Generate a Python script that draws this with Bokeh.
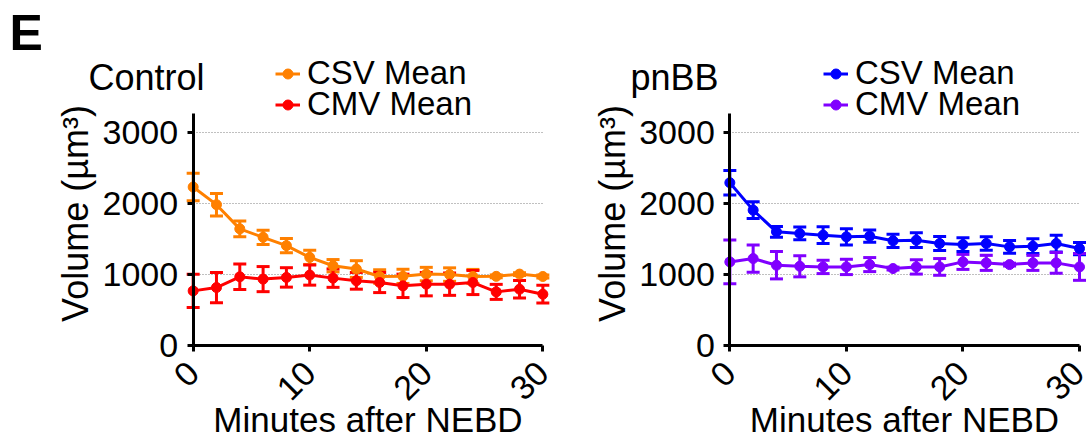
import math
from bokeh.plotting import figure
from bokeh.models import (ColumnDataSource, Whisker, TeeHead, Legend, LegendItem,
                          Label, FixedTicker, Range1d)
from bokeh.layouts import row
from bokeh.embed import file_html
from bokeh.resources import INLINE

minutes = [0, 2, 4, 6, 8, 10, 12, 14, 16, 18, 20, 22, 24, 26, 28, 30]
control_csv = [2235, 1986, 1645, 1526, 1408, 1243, 1125, 1078, 973, 975, 1007, 1000, 973, 975, 1007, 973]
control_csv_err = [194, 158, 111, 100, 100, 100, 87, 118, 95, 100, 95, 95, 100, 20, 20, 20]
control_cmv = [770, 817, 969, 936, 960, 993, 950, 912, 888, 841, 865, 865, 888, 756, 794, 723]
control_cmv_err = [236, 213, 180, 177, 137, 142, 130, 118, 142, 165, 165, 158, 170, 106, 123, 125]
pnbb_csv = [2296, 1909, 1603, 1580, 1556, 1532, 1542, 1476, 1485, 1438, 1424, 1438, 1391, 1400, 1438, 1367]
pnbb_csv_err = [172, 118, 75, 90, 118, 113, 87, 94, 104, 99, 97, 94, 90, 104, 118, 87]
pnbb_cmv = [1179, 1226, 1132, 1117, 1108, 1108, 1141, 1085, 1108, 1108, 1179, 1165, 1141, 1165, 1165, 1108]
pnbb_cmv_err = [309, 193, 193, 149, 94, 108, 99, 20, 101, 118, 106, 106, 20, 106, 146, 189]

x_ticks = [0, 10, 20, 30]
y_ticks = [0, 1000, 2000, 3000]
series_labels = ["CSV Mean", "CMV Mean"]
panel_titles = ["Control", "pnBB"]
x_label = "Minutes after NEBD"
y_label = "Volume (µm³)"

FONT = "Liberation Sans"
Y_AXIS_TOP = 3276


def make_panel(title, csv, csv_err, cmv, cmv_err, colors, width, border_right,
               x_start, x_end, legend_x, title_x, xlabel_x, ylabel_x, panel_letter=None):
    p = figure(width=width, height=437, output_backend="svg", toolbar_location=None,
               x_range=Range1d(x_start, x_end), y_range=Range1d(-1298, 4866),
               min_border_left=5, min_border_right=border_right,
               min_border_top=0, min_border_bottom=0)
    p.outline_line_color = None
    p.xgrid.visible = False
    p.ygrid.ticker = FixedTicker(ticks=[1000, 2000, 3000])
    p.ygrid.grid_line_color = "#808080"
    p.ygrid.grid_line_dash = "1 2"
    p.ygrid.grid_line_width = 1
    p.ygrid.cross_bounds = (0, 30)

    for ax in (p.xaxis, p.yaxis):
        ax.axis_line_width = 3
        ax.axis_line_color = "black"
        ax.major_tick_line_width = 3
        ax.major_tick_out = 6
        ax.major_tick_in = 0
        ax.minor_tick_line_color = None
        ax.major_label_text_font = FONT
        ax.major_label_text_font_size = "34px"
        ax.major_label_text_color = "black"

    p.xaxis.ticker = FixedTicker(ticks=x_ticks)
    p.xaxis.bounds = (0, 30)
    p.xaxis.fixed_location = 0
    p.xaxis.major_label_orientation = 0.785398
    p.xaxis.major_label_standoff = 16

    p.yaxis.ticker = FixedTicker(ticks=y_ticks)
    p.yaxis.bounds = (0, Y_AXIS_TOP)
    p.yaxis.fixed_location = 0
    p.yaxis.major_label_standoff = 9

    for k, (vals, errs, col, lab) in enumerate(((csv, csv_err, colors[0], series_labels[0]),
                                                (cmv, cmv_err, colors[1], series_labels[1]))):
        src = ColumnDataSource(dict(x=minutes, y=vals,
                                    lo=[v - e for v, e in zip(vals, errs)],
                                    hi=[v + e for v, e in zip(vals, errs)]))
        ln = p.line("x", "y", source=src, line_color=col, line_width=3)
        w = Whisker(source=src, base="x", lower="lo", upper="hi", dimension="height",
                    line_color=col, line_width=3,
                    lower_head=TeeHead(size=13, line_color=col, line_width=3),
                    upper_head=TeeHead(size=13, line_color=col, line_width=3))
        p.add_layout(w)
        sc = p.scatter("x", "y", source=src, size=10, fill_color=col, line_color=col)
        legend = Legend(items=[LegendItem(label=lab, renderers=[ln, sc])],
                        location=(legend_x, 345 - 31 * k), padding=0, margin=0,
                        spacing=0, glyph_width=25, glyph_height=31, label_height=31,
                        label_standoff=7, label_text_font=FONT,
                        label_text_font_size="33px", label_text_color="black",
                        background_fill_alpha=0, border_line_alpha=0)
        p.add_layout(legend)

    p.add_layout(Label(x=title_x, y=360, x_units="screen", y_units="screen", text=title,
                       text_baseline="alphabetic", text_font=FONT,
                       text_font_size="36px", text_color="black"))
    p.add_layout(Label(x=xlabel_x, y=18, x_units="screen", y_units="screen", text=x_label,
                       text_align="center", text_baseline="alphabetic", text_font=FONT,
                       text_font_size="35px", text_color="black"))
    p.add_layout(Label(x=ylabel_x, y=224, x_units="screen", y_units="screen", text=y_label,
                       angle=math.pi / 2, text_align="center", text_baseline="alphabetic",
                       text_font=FONT, text_font_size="36px", text_color="black"))
    if panel_letter:
        p.add_layout(Label(x=4, y=405, x_units="screen", y_units="screen",
                           text=panel_letter, text_baseline="alphabetic", text_font=FONT,
                           text_font_size="50px", text_font_style="bold",
                           text_color="black"))
    return p


p1 = make_panel(panel_titles[0], control_csv, control_csv_err, control_cmv, control_cmv_err,
                ["#FF8000", "#FF0000"], 560, 6, -16.1, 31, 270, 83, 362.5, 70,
                panel_letter="E")
p2 = make_panel(panel_titles[1], pnbb_csv, pnbb_csv_err, pnbb_cmv, pnbb_cmv_err,
                ["#0000FF", "#8000FF"], 526, 0, -14.1, 30.6, 258, 65, 339, 46.5)

layout = row(p1, p2)
open("out.html", "w").write(file_html(layout, INLINE))
